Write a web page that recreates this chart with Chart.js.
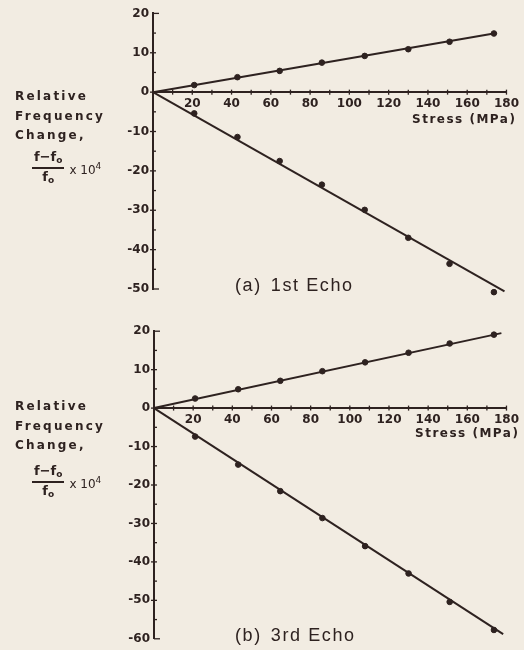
<!DOCTYPE html>
<html><head><meta charset="utf-8">
<script src="https://cdn.jsdelivr.net/npm/chart.js@4.4.1/dist/chart.umd.min.js"></script>
<style>
html,body{margin:0;padding:0;background:#f2ece2;}
body{width:524px;height:650px;position:relative;overflow:hidden;font-family:"DejaVu Sans",sans-serif;color:#2e2220;}
.panel{position:absolute;left:0;width:524px;}
.panel canvas{position:absolute;left:0;top:0;}
.ylab{position:absolute;left:15px;font-weight:bold;font-size:12px;letter-spacing:2.2px;line-height:19.5px;white-space:nowrap;}
.frac{position:absolute;font-size:13px;font-weight:bold;display:flex;align-items:center;white-space:nowrap;}
.fr{display:inline-flex;flex-direction:column;align-items:center;}
.num{border-bottom:2px solid #2e2220;padding:0 2px;line-height:14px;}
.den{line-height:15px;}
.frac sub{font-size:9px;vertical-align:-2px;}
.frac sup{font-size:9px;vertical-align:5px;}
.mul{margin-left:5px;font-weight:normal;font-size:12px;}
.xlab{position:absolute;font-weight:bold;font-size:12px;letter-spacing:1.5px;line-height:14px;white-space:nowrap;}
.cap{position:absolute;left:235px;font-family:"Liberation Sans",Arial,sans-serif;font-size:18px;letter-spacing:1.6px;line-height:20px;white-space:nowrap;}
.cap span{margin-left:9px;}
</style>
</head><body>

<div class="panel" style="top:0;height:320px;"><canvas id="c1" width="524" height="320"></canvas></div>
<div class="panel" style="top:320px;height:330px;"><canvas id="c2" width="524" height="330"></canvas></div>

<div class="ylab" style="top:87px;">Relative<br>Frequency<br>Change,</div>
<div class="frac" style="left:32px;top:150px;"><span class="fr"><span class="num">f−f<sub>o</sub></span><span class="den">f<sub>o</sub></span></span><span class="mul">x 10<sup>4</sup></span></div>
<div class="xlab" style="left:412px;top:112px;">Stress (MPa)</div>
<div class="cap" style="top:275px;">(a)<span>1st Echo</span></div>

<div class="ylab" style="top:397px;">Relative<br>Frequency<br>Change,</div>
<div class="frac" style="left:32px;top:464px;"><span class="fr"><span class="num">f−f<sub>o</sub></span><span class="den">f<sub>o</sub></span></span><span class="mul">x 10<sup>4</sup></span></div>
<div class="xlab" style="left:415px;top:426px;">Stress (MPa)</div>
<div class="cap" style="top:625px;">(b)<span>3rd Echo</span></div>

<script>
// ---- data ----
const stress = [21, 43, 64.5, 86, 107.8, 130, 151, 173.6];           // MPa
const echo1Up   = [1.8, 3.8, 5.4, 7.5, 9.2, 10.9, 12.8, 14.9];
const echo1Down = [-5.4, -11.4, -17.5, -23.5, -29.9, -37.0, -43.6, -50.8];
const echo3Up   = [2.5, 4.9, 7.1, 9.6, 11.9, 14.4, 16.8, 19.1];
const echo3Down = [-7.4, -14.7, -21.6, -28.6, -35.9, -43.0, -50.4, -57.7];
// fitted straight lines (start, end)
const fit1UpX = [0, 175],   fit1UpY = [0, 15.0];
const fit1DownX = [0, 179], fit1DownY = [0, -50.6];
const fit3UpX = [0, 177.4], fit3UpY = [0, 19.5];
const fit3DownX = [0, 178.3], fit3DownY = [0, -58.8];
// tick labels
const xTickLabels = [20, 40, 60, 80, 100, 120, 140, 160, 180];
const yTicksA = [20, 10, 0, -10, -20, -30, -40, -50];
const yTicksB = [20, 10, 0, -10, -20, -30, -40, -50, -60];

const INK = '#2e2220';
const pts = (xs, ys) => xs.map((x, i) => ({x: x, y: ys[i]}));

const tickPlugin = {
  id: 'crossTicks',
  afterDraw(chart) {
    const {ctx, scales: {x, y}, chartArea} = chart;
    ctx.save();
    ctx.strokeStyle = INK;
    ctx.lineWidth = 1.3;
    const y0 = y.getPixelForValue(0);
    for (let v = 10; v <= x.max; v += 10) {
      const px = x.getPixelForValue(v);
      ctx.beginPath(); ctx.moveTo(px, y0 - 2.5); ctx.lineTo(px, y0 + 2.5); ctx.stroke();
    }
    const left = chartArea.left;
    for (let v = y.min; v <= y.max; v += 5) {
      const py = y.getPixelForValue(v);
      const major = (v % 10 === 0);
      const end = (v === y.min || v === y.max);
      ctx.beginPath();
      ctx.moveTo(major && !end ? left - 3 : left, py);
      ctx.lineTo(left + (end ? 6 : 3), py);
      ctx.stroke();
    }
    ctx.restore();
  }
};

function makeChart(id, up, down, fUp, fDown, yMin, yTicks, pad, yWidth) {
  const tickFont = {family: 'DejaVu Sans', size: 12, weight: 'bold'};
  return new Chart(document.getElementById(id), {
    type: 'scatter',
    data: {
      datasets: [
        {data: pts(stress, up), pointRadius: 2.8, pointBackgroundColor: INK, pointBorderColor: INK, showLine: false, clip: false},
        {data: pts(stress, down), pointRadius: 2.8, pointBackgroundColor: INK, pointBorderColor: INK, showLine: false, clip: false},
        {data: fUp, showLine: true, pointRadius: 0, borderColor: INK, borderWidth: 2, clip: false},
        {data: fDown, showLine: true, pointRadius: 0, borderColor: INK, borderWidth: 2, clip: false}
      ]
    },
    options: {
      responsive: false,
      animation: false,
      devicePixelRatio: 1,
      layout: {padding: pad},
      plugins: {legend: {display: false}, tooltip: {enabled: false}},
      scales: {
        x: {
          type: 'linear', min: 0, max: 180,
          position: {y: 0},
          grid: {display: false, drawTicks: false},
          border: {display: true, color: INK, width: 2},
          afterBuildTicks: s => { s.ticks = xTickLabels.map(v => ({value: v})); },
          ticks: {color: INK, font: tickFont, padding: 5, maxRotation: 0, autoSkip: false}
        },
        y: {
          type: 'linear', min: yMin, max: 20,
          grid: {display: false, drawTicks: false},
          border: {display: true, color: INK, width: 2},
          afterBuildTicks: s => { s.ticks = yTicks.map(v => ({value: v})); },
          afterFit: s => { s.width = yWidth; },
          ticks: {color: INK, font: tickFont, padding: 4, autoSkip: false}
        }
      }
    },
    plugins: [tickPlugin]
  });
}

makeChart('c1', echo1Up, echo1Down, pts(fit1UpX, fit1UpY), pts(fit1DownX, fit1DownY),
  -50, yTicksA, {top: 13.4, right: 15, bottom: 31, left: 0}, 153);
makeChart('c2', echo3Up, echo3Down, pts(fit3UpX, fit3UpY), pts(fit3DownX, fit3DownY),
  -60, yTicksB, {top: 5, right: 12, bottom: 8.3, left: 0}, 154);
</script>
</body></html>
